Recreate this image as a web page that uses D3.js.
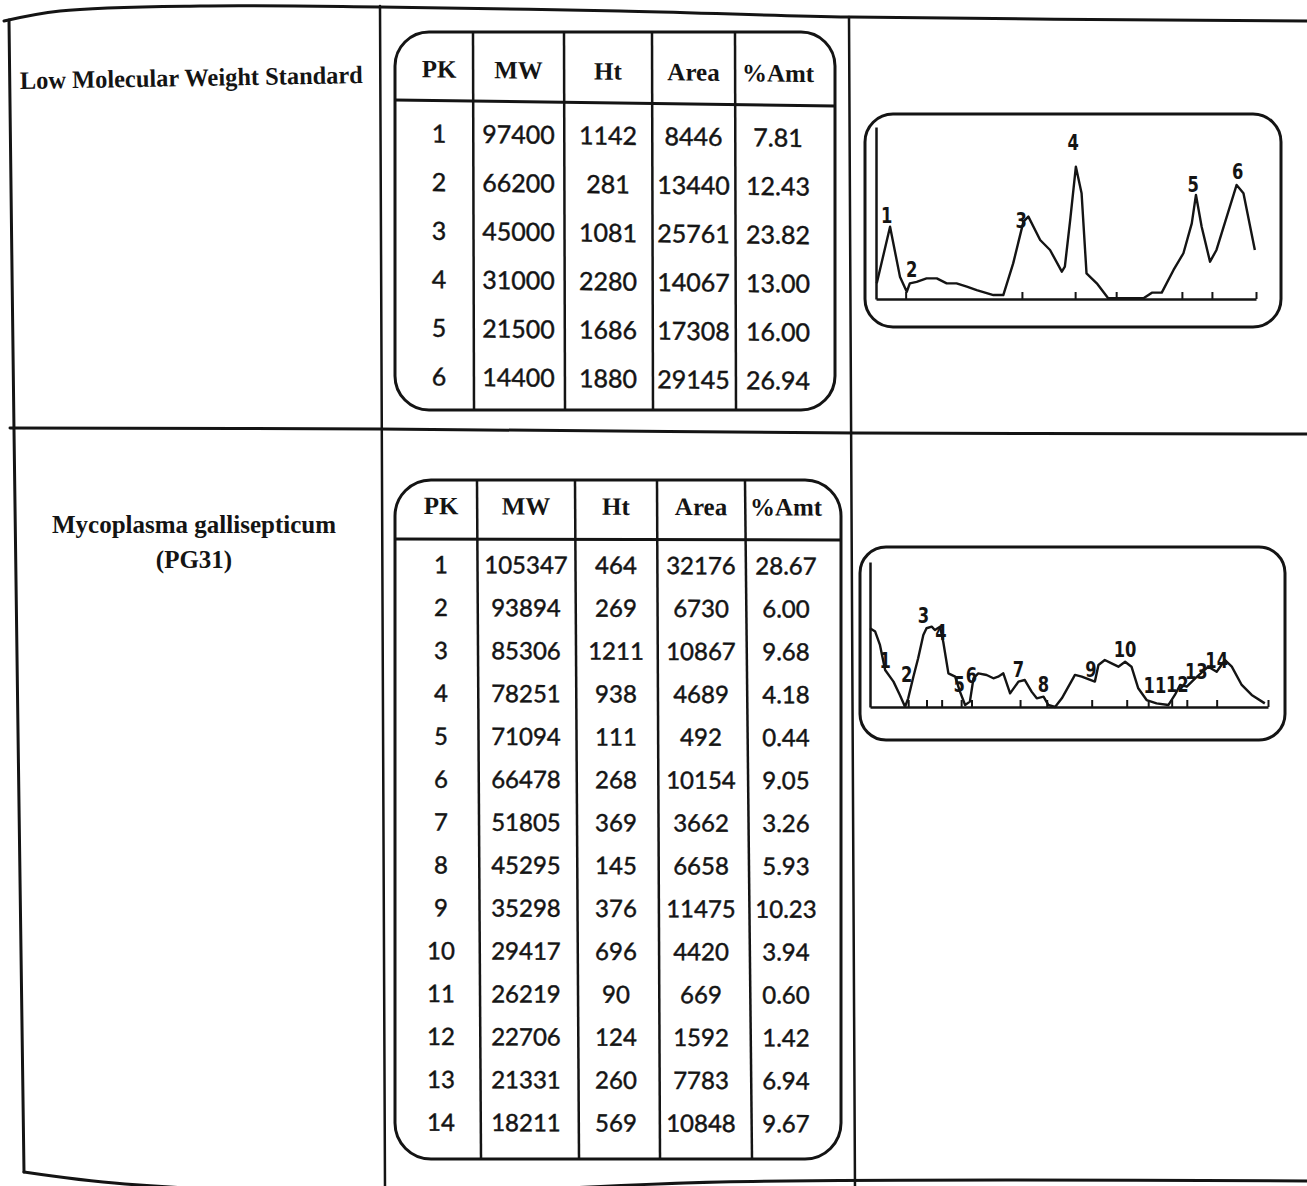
<!DOCTYPE html>
<html>
<head>
<meta charset="utf-8">
<script src="https://cdn.jsdelivr.net/npm/d3@7"></script>
<style>
  body { margin: 0; background: #fff; }
  svg { display: block; }
</style>
</head>
<body>
<div id="chart"></div>
<script>
/***** Data *****/
var colHeads = ["PK", "MW", "Ht", "Area", "%Amt"];

// Low Molecular Weight Standard
var lmwPk   = [1, 2, 3, 4, 5, 6];
var lmwMw   = [97400, 66200, 45000, 31000, 21500, 14400];
var lmwHt   = [1142, 281, 1081, 2280, 1686, 1880];
var lmwArea = [8446, 13440, 25761, 14067, 17308, 29145];
var lmwAmt  = [7.81, 12.43, 23.82, 13.00, 16.00, 26.94];

// Mycoplasma gallisepticum (PG31)
var mgPk   = [1, 2, 3, 4, 5, 6, 7, 8, 9, 10, 11, 12, 13, 14];
var mgMw   = [105347, 93894, 85306, 78251, 71094, 66478, 51805, 45295, 35298, 29417, 26219, 22706, 21331, 18211];
var mgHt   = [464, 269, 1211, 938, 111, 268, 369, 145, 376, 696, 90, 124, 260, 569];
var mgArea = [32176, 6730, 10867, 4689, 492, 10154, 3662, 6658, 11475, 4420, 669, 1592, 7783, 10848];
var mgAmt  = [28.67, 6.00, 9.68, 4.18, 0.44, 9.05, 3.26, 5.93, 10.23, 3.94, 0.60, 1.42, 6.94, 9.67];

// densitometer scans (position along lane 0-100, optical density 0-100)
var lmwScanPos = [0.2, 3.7, 6.3, 8.1, 8.9, 10.7, 13.3, 16, 18.6, 21.2, 23.9, 26.5, 30.9, 33.5, 36.1,
  38.8, 40.1, 43.2, 45.8, 48.9, 49.7, 51.1, 52.6, 54.1, 55.4, 58.1, 61.1, 70.4, 72.6, 75.2,
  78.3, 80.9, 83.1, 84.2, 85.7, 87.9, 89.6, 94.9, 96.7, 99.7];
var lmwScanOd = [9.1, 42, 13, 4.2, 9.1, 10, 12, 12, 9.1, 9.1, 7.2, 5.2, 2.3, 2.3, 20.7,
  45, 47.9, 34.3, 28.5, 15.9, 18.8, 45.9, 76.9, 61.5, 14.9, 9.1, 0.4, 0.4, 3.7, 3.7,
  16.9, 26.6, 44, 60.5, 42, 21.7, 28.5, 66.3, 61.5, 28.5];
var lmwTicks = [7.8, 38.4, 52.4, 63.2, 80.5, 88.4, 100];
var lmwLabelPos = [2.8, 9.4, 38.2, 51.9, 83.5, 95.2];
var lmwLabelOd  = [44, 13, 41, 86.6, 62.4, 70];

var mgScanPos = [0, 1.3, 2.5, 3.8, 5.9, 7.5, 8.8, 9.6, 10.9, 12.1, 13.4, 14.2, 15.5, 16.3, 17.6,
  18.4, 19.7, 21.4, 22.6, 23.9, 25.1, 26, 27.2, 29.3, 31, 32.2, 33.5, 35.2, 37.3, 38.9,
  40.6, 41.9, 43.6, 44.8, 46.5, 48.2, 51.5, 53.2, 56.5, 57.4, 59, 60.7, 62.4, 64.1, 65.7,
  67.4, 69.5, 72, 75, 76.6, 77.9, 79.6, 81.7, 85, 87.1, 89.2, 90.9, 93.4, 95.9, 99.2];
var mgScanOd = [54.3, 52, 42.8, 25.5, 17.5, 8.3, 0.2, 6, 20.9, 33.6, 49.7, 54.3, 55.4, 53.1, 55.4,
  45, 23.2, 20.9, 10.6, 1.4, 3.7, 19.8, 23.2, 22.1, 19.8, 20.9, 23.2, 9.4, 17.5, 18.6,
  10.6, 6, 7.1, 1.4, 0, 6, 22.1, 20.9, 17.5, 29, 32.4, 30.1, 27.8, 31.2, 27.8,
  12.9, 4.8, 2.5, 1.4, 8.3, 15.2, 14, 19.8, 27.8, 24.3, 32.4, 27.8, 15.2, 8.3, 2.5];
var mgTicks = [9.6, 14.2, 18, 22.9, 25.5, 37.7, 44.4, 55.7, 64.5, 69.9, 75.8, 79.6, 87.1, 100];
var mgLabelPos = [3.8, 9.2, 13.4, 17.8, 22.4, 25.5, 37.3, 43.6, 55.5, 64.1, 71.6, 77.2, 82, 87.1];
var mgLabelOd  = [26.7, 17.5, 57.7, 46.2, 10.6, 16.3, 20.9, 10.6, 20.9, 34.7, 9.4, 10.6, 19, 26.7];

/***** Setup *****/
var INK = "#141414";
var svg = d3.select("#chart").append("svg")
  .attr("width", 1307)
  .attr("height", 1186);

svg.append("rect").attr("width", 1307).attr("height", 1186).attr("fill", "#fff");

// outer grid of the scanned page
var frame = svg.append("g")
  .attr("fill", "none")
  .attr("stroke", INK)
  .attr("stroke-width", 3)
  .attr("stroke-linecap", "round");
var curve = d3.line().curve(d3.curveCatmullRom);

frame.append("path").attr("d", curve([[4, 21], [60, 11], [200, 6], [380, 7], [620, 11], [850, 17], [1307, 21]]));
frame.append("path").attr("d", curve([[9, 20], [14, 430], [24, 1172]]));
frame.append("path").attr("d", curve([[24, 1172], [125, 1184], [400, 1194], [720, 1182], [1307, 1181]]));
frame.append("path").attr("d", curve([[10, 428], [380, 429], [855, 433], [1307, 434]]));
frame.append("path").attr("d", curve([[380, 6], [385, 1190]])).attr("stroke-width", 2.5);
frame.append("path").attr("d", curve([[849, 17], [855, 1190]])).attr("stroke-width", 2.5);

// sample names
svg.append("text")
  .attr("x", 20).attr("y", 89)
  .attr("transform", "rotate(-1 20 89)")
  .attr("font-family", "'Liberation Serif', 'DejaVu Serif', serif")
  .attr("font-weight", "bold")
  .attr("font-size", 25)
  .attr("textLength", 343)
  .attr("lengthAdjust", "spacingAndGlyphs")
  .attr("fill", INK)
  .text("Low Molecular Weight Standard");

var mgName = svg.append("g")
  .attr("font-family", "'Liberation Serif', 'DejaVu Serif', serif")
  .attr("font-weight", "bold")
  .attr("font-size", 25)
  .attr("fill", INK)
  .attr("text-anchor", "middle");
mgName.append("text").attr("x", 194).attr("y", 533)
  .attr("textLength", 284).attr("lengthAdjust", "spacingAndGlyphs")
  .text("Mycoplasma gallisepticum");
mgName.append("text").attr("x", 194).attr("y", 568).text("(PG31)");

/***** Tables *****/
function drawTable(spec, cols) {
  var g = svg.append("g");
  var n = cols[0].length;

  g.append("rect")
    .attr("x", spec.x0).attr("y", spec.y0)
    .attr("width", spec.x1 - spec.x0).attr("height", spec.y1 - spec.y0)
    .attr("rx", spec.r).attr("ry", spec.r)
    .attr("fill", "none").attr("stroke", INK).attr("stroke-width", 3);

  g.append("line")
    .attr("x1", spec.x0).attr("x2", spec.x1)
    .attr("y1", spec.headLine[0]).attr("y2", spec.headLine[1])
    .attr("stroke", INK).attr("stroke-width", 3);

  g.selectAll("line.div").data(spec.dividers).join("line")
    .attr("class", "div")
    .attr("x1", function(d) { return d[0]; }).attr("x2", function(d) { return d[1]; })
    .attr("y1", spec.y0 + 1).attr("y2", spec.y1 - 1)
    .attr("stroke", INK).attr("stroke-width", 2.5);

  var edges = [spec.x0 + 10].concat(spec.dividers.map(function(d) { return d[0]; }), [spec.x1 - 14]);
  var colX = d3.scaleOrdinal().domain(colHeads)
    .range(colHeads.map(function(c, i) { return (edges[i] + edges[i + 1]) / 2; }));
  var rowY = d3.scalePoint().domain(d3.range(n)).range([spec.row0, spec.row0 + spec.rowStep * (n - 1)]);

  var skew = "matrix(1," + spec.skew + ",0,1,0," + (-spec.skew * spec.x0) + ")";
  var txt = g.append("g").attr("transform", skew).attr("fill", INK).attr("text-anchor", "middle");

  txt.selectAll("text.head").data(colHeads).join("text")
    .attr("class", "head")
    .attr("x", function(d) { return colX(d); })
    .attr("y", spec.headBase)
    .attr("font-family", "'Liberation Serif', 'DejaVu Serif', serif")
    .attr("font-weight", "bold")
    .attr("font-size", 25)
    .text(function(d) { return d; });

  var fmt = [String, String, String, String, function(v) { return v.toFixed(2); }];
  colHeads.forEach(function(h, ci) {
    txt.selectAll("text.c" + ci).data(cols[ci]).join("text")
      .attr("class", "c" + ci)
      .attr("x", colX(h))
      .attr("y", function(d, i) { return rowY(i); })
      .attr("font-family", "Lato, 'Open Sans', sans-serif")
      .attr("font-size", spec.fontSize)
      .attr("stroke", INK)
      .attr("stroke-width", 0.45)
      .text(function(d) { return fmt[ci](d); });
  });
}

drawTable({
  x0: 395, x1: 835, y0: 32, y1: 410, r: 34,
  headLine: [100, 106],
  dividers: [[473, 474], [564, 565], [652, 653], [735, 736]],
  headBase: 77, row0: 142, rowStep: 48.6, fontSize: 25, skew: 0.012
}, [lmwPk, lmwMw, lmwHt, lmwArea, lmwAmt]);

drawTable({
  x0: 395, x1: 841, y0: 480, y1: 1159, r: 36,
  headLine: [539, 540],
  dividers: [[477, 481], [575, 579], [657, 660], [745, 752]],
  headBase: 514, row0: 573, rowStep: 42.9, fontSize: 24, skew: 0.004
}, [mgPk, mgMw, mgHt, mgArea, mgAmt]);

/***** Densitometer scans *****/
function drawScan(spec, pos, od, ticks, labels, labelPos, labelOd) {
  var g = svg.append("g");

  g.append("rect")
    .attr("x", spec.box[0]).attr("y", spec.box[1])
    .attr("width", spec.box[2] - spec.box[0]).attr("height", spec.box[3] - spec.box[1])
    .attr("rx", spec.r).attr("ry", spec.r)
    .attr("fill", "none").attr("stroke", INK).attr("stroke-width", 3);

  var x = d3.scaleLinear().domain([0, 100]).range([spec.left, spec.right]);
  var y = d3.scaleLinear().domain([0, 100]).range([spec.base, spec.top]);

  var xAxis = d3.axisBottom(x).tickValues(ticks).tickSize(-7).tickSizeOuter(0).tickFormat("");
  var yAxis = d3.axisLeft(y).tickValues([]).tickSizeOuter(0);

  var ax = g.append("g").attr("transform", "translate(0," + spec.base + ")").call(xAxis);
  var ay = g.append("g").attr("transform", "translate(" + spec.left + ",0)").call(yAxis);
  [ax, ay].forEach(function(a) {
    a.select(".domain").attr("stroke", INK).attr("stroke-width", 2.5);
    a.selectAll(".tick line").attr("stroke", INK).attr("stroke-width", 2);
  });

  var line = d3.line()
    .x(function(d, i) { return x(pos[i]); })
    .y(function(d) { return y(d); });

  g.append("path")
    .attr("d", line(od))
    .attr("fill", "none")
    .attr("stroke", INK)
    .attr("stroke-width", 2.4)
    .attr("stroke-linejoin", "round");

  // condensed, tall peak numbers as printed by the densitometer
  g.selectAll("text.pk").data(labels).join("text")
    .attr("class", "pk")
    .attr("transform", function(d, i) {
      return "translate(" + x(labelPos[i]) + "," + y(labelOd[i]) + ") scale(0.86,1.12)";
    })
    .attr("text-anchor", "middle")
    .attr("font-family", "'DejaVu Sans', sans-serif")
    .attr("font-weight", "bold")
    .attr("font-size", 19)
    .attr("fill", INK)
    .text(function(d) { return d; });
}

drawScan({
  box: [865, 114, 1281, 327], r: 28,
  left: 876, right: 1256, base: 299, top: 127
}, lmwScanPos, lmwScanOd, lmwTicks, lmwPk, lmwLabelPos, lmwLabelOd);

drawScan({
  box: [860, 547, 1285, 740], r: 26,
  left: 870, right: 1268, base: 707, top: 562
}, mgScanPos, mgScanOd, mgTicks, mgPk, mgLabelPos, mgLabelOd);
</script>
</body>
</html>
